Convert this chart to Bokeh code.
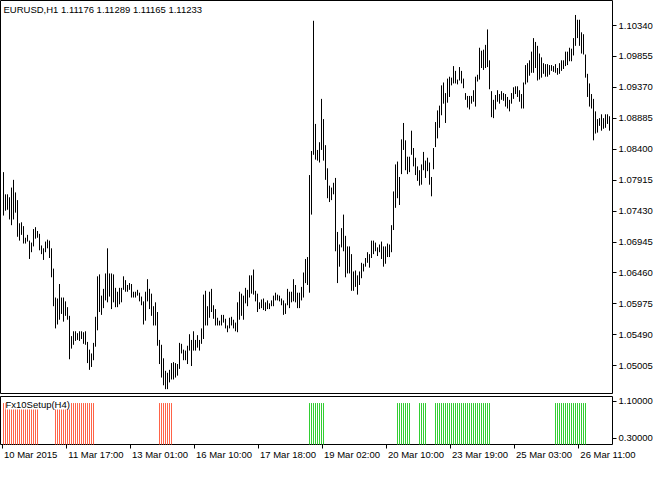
from bokeh.plotting import figure
from bokeh.models import (Range1d, FixedTicker, PrintfTickFormatter, Label, ColumnDataSource,
                          LinearAxis)
from bokeh.layouts import column
from bokeh.embed import file_html
from bokeh.resources import INLINE

# ---------------- data ----------------
title_text = "EURUSD,H1  1.11176 1.11289 1.11165 1.11233"
indicator_name = "Fx10Setup(H4)"

bar_high = [
    1.08041, 1.07693, 1.07693, 1.07647, 1.07799, 1.07920, 1.07723, 1.07602, 1.07239, 1.07254,
    1.07194, 1.07012, 1.07057, 1.06967, 1.06936, 1.07148, 1.07178, 1.07118, 1.07073, 1.06891,
    1.06846, 1.06952, 1.06982, 1.06967, 1.06846, 1.06528, 1.06074, 1.06059, 1.06286, 1.06074,
    1.06074, 1.06014, 1.05923, 1.05787, 1.05469, 1.05545, 1.05545, 1.05515, 1.05545, 1.05545,
    1.05530, 1.05545, 1.05378, 1.05257, 1.05197, 1.05363, 1.05772, 1.06407, 1.06437, 1.06104,
    1.06210, 1.06452, 1.06846, 1.06452, 1.06452, 1.06437, 1.06226, 1.06165, 1.06226, 1.06226,
    1.06407, 1.06347, 1.06271, 1.06301, 1.06286, 1.06165, 1.06165, 1.06195, 1.06150, 1.06089,
    1.06014, 1.06165, 1.06362, 1.06210, 1.06135, 1.05938, 1.05999, 1.05847, 1.05409, 1.05333,
    1.05121, 1.04925, 1.04894, 1.04940, 1.05046, 1.05061, 1.05046, 1.05031, 1.05363, 1.05348,
    1.05257, 1.05242, 1.05318, 1.05499, 1.05409, 1.05545, 1.05409, 1.05484, 1.05409, 1.05590,
    1.06120, 1.06180, 1.05938, 1.06165, 1.06210, 1.05953, 1.05893, 1.05757, 1.05711, 1.05802,
    1.05802, 1.05741, 1.05636, 1.05757, 1.05772, 1.05726, 1.05681, 1.05999, 1.06165, 1.06135,
    1.06104, 1.06226, 1.06195, 1.06422, 1.06422, 1.06513, 1.06180, 1.06135, 1.05999, 1.06044,
    1.06059, 1.05999, 1.06029, 1.05983, 1.06029, 1.06104, 1.06150, 1.06120, 1.06104, 1.06059,
    1.06029, 1.05983, 1.06210, 1.06165, 1.06165, 1.06362, 1.06271, 1.06150, 1.06150, 1.06241,
    1.06467, 1.06679, 1.06709, 1.07995, 1.08373, 1.10415, 1.08797, 1.08389, 1.08510, 1.09190,
    1.08873, 1.08464, 1.08101, 1.07829, 1.07799, 1.07874, 1.07950, 1.07103, 1.06906, 1.07163,
    1.07375, 1.07042, 1.06876, 1.06876, 1.06755, 1.06483, 1.06498, 1.06422, 1.06483, 1.06619,
    1.06604, 1.06694, 1.06785, 1.06755, 1.06967, 1.06967, 1.06936, 1.06861, 1.06906, 1.06952,
    1.06876, 1.06876, 1.06921, 1.06906, 1.07209, 1.07738, 1.08162, 1.08207, 1.07965, 1.08555,
    1.08812, 1.08540, 1.08283, 1.08283, 1.08691, 1.08419, 1.08267, 1.08131, 1.08071, 1.08162,
    1.08358, 1.08222, 1.08267, 1.08192, 1.07965, 1.08419, 1.08827, 1.09009, 1.09084, 1.09402,
    1.09447, 1.09281, 1.09508, 1.09538, 1.09523, 1.09704, 1.09629, 1.09493, 1.09689, 1.09629,
    1.09508, 1.09281, 1.09236, 1.09236, 1.09236, 1.09326, 1.09538, 1.09568, 1.09992, 1.09946,
    1.09962, 1.10037, 1.10279, 1.09795, 1.09311, 1.09175, 1.09251, 1.09326, 1.09266, 1.09311,
    1.09281, 1.09266, 1.09220, 1.09175, 1.09281, 1.09372, 1.09387, 1.09387, 1.09326, 1.09266,
    1.09447, 1.09720, 1.09750, 1.09795, 1.09931, 1.10143, 1.10083, 1.10022, 1.09901, 1.09841,
    1.09750, 1.09735, 1.09735, 1.09720, 1.09720, 1.09704, 1.09735, 1.09674, 1.09750, 1.09795,
    1.09795, 1.09931, 1.09931, 1.09992, 1.09977, 1.10143, 1.10506, 1.10431, 1.10431, 1.10234,
    1.10204, 1.09886, 1.09583, 1.09432, 1.09266, 1.09190, 1.08994, 1.08873, 1.08888, 1.08948,
    1.08888, 1.08948, 1.08948, 1.08918,
]

bar_low = [
    1.07360, 1.07436, 1.07451, 1.07299, 1.07209, 1.07299, 1.07405, 1.07027, 1.06967, 1.07057,
    1.06921, 1.06921, 1.06952, 1.06679, 1.06785, 1.06876, 1.06997, 1.07012, 1.06815, 1.06755,
    1.06664, 1.06785, 1.06846, 1.06694, 1.06392, 1.05938, 1.05590, 1.05651, 1.05726, 1.05817,
    1.05696, 1.05787, 1.05726, 1.05106, 1.05273, 1.05333, 1.05394, 1.05409, 1.05394, 1.05424,
    1.05348, 1.05333, 1.05046, 1.04940, 1.04985, 1.05091, 1.05303, 1.05560, 1.05847, 1.05802,
    1.05908, 1.06029, 1.05999, 1.06089, 1.05893, 1.05999, 1.05923, 1.05923, 1.05968, 1.05999,
    1.06195, 1.06165, 1.06165, 1.06195, 1.06074, 1.06074, 1.06074, 1.06104, 1.06014, 1.05953,
    1.05651, 1.05711, 1.06014, 1.05893, 1.05787, 1.05636, 1.05636, 1.05318, 1.05031, 1.04819,
    1.04698, 1.04637, 1.04637, 1.04743, 1.04789, 1.04789, 1.04819, 1.04849, 1.04955, 1.05197,
    1.05091, 1.05091, 1.05031, 1.05242, 1.05000, 1.05242, 1.05242, 1.05288, 1.05242, 1.05348,
    1.05424, 1.05636, 1.05636, 1.05757, 1.05847, 1.05741, 1.05636, 1.05636, 1.05636, 1.05636,
    1.05681, 1.05590, 1.05530, 1.05590, 1.05636, 1.05590, 1.05545, 1.05530, 1.05726, 1.05787,
    1.05726, 1.05983, 1.05938, 1.06074, 1.06135, 1.06120, 1.06014, 1.05847, 1.05893, 1.05908,
    1.05878, 1.05862, 1.05893, 1.05893, 1.05938, 1.05938, 1.06029, 1.06029, 1.06014, 1.05953,
    1.05802, 1.05817, 1.05953, 1.05908, 1.05999, 1.06014, 1.05999, 1.05908, 1.05908, 1.06029,
    1.06074, 1.06301, 1.06271, 1.06150, 1.07375, 1.08313, 1.08237, 1.08222, 1.08192, 1.08389,
    1.08222, 1.07920, 1.07632, 1.07572, 1.07602, 1.07693, 1.06800, 1.06301, 1.06558, 1.06861,
    1.06800, 1.06392, 1.06452, 1.06452, 1.06180, 1.06180, 1.06241, 1.06120, 1.06271, 1.06377,
    1.06483, 1.06558, 1.06619, 1.06543, 1.06694, 1.06755, 1.06800, 1.06725, 1.06785, 1.06679,
    1.06558, 1.06604, 1.06709, 1.06709, 1.06785, 1.07133, 1.07481, 1.07632, 1.07526, 1.08010,
    1.08389, 1.08071, 1.08010, 1.08041, 1.08313, 1.08131, 1.07995, 1.07904, 1.07829, 1.07844,
    1.08071, 1.07950, 1.08056, 1.07844, 1.07662, 1.08086, 1.08434, 1.08570, 1.08736, 1.08933,
    1.09115, 1.08812, 1.09130, 1.09220, 1.09402, 1.09432, 1.09432, 1.09417, 1.09478, 1.09432,
    1.09357, 1.09175, 1.09054, 1.09024, 1.09115, 1.09145, 1.09069, 1.09462, 1.09493, 1.09674,
    1.09644, 1.09674, 1.09689, 1.09341, 1.08903, 1.08888, 1.09024, 1.09145, 1.09115, 1.09175,
    1.09160, 1.09069, 1.09039, 1.08994, 1.09115, 1.09190, 1.09266, 1.09220, 1.09145, 1.09039,
    1.09039, 1.09417, 1.09447, 1.09553, 1.09599, 1.09599, 1.09674, 1.09478, 1.09493, 1.09523,
    1.09583, 1.09538, 1.09538, 1.09568, 1.09629, 1.09614, 1.09599, 1.09568, 1.09583, 1.09629,
    1.09659, 1.09704, 1.09720, 1.09780, 1.09780, 1.09871, 1.10022, 1.10143, 1.10022, 1.09901,
    1.09886, 1.09523, 1.09220, 1.09069, 1.09039, 1.08540, 1.08646, 1.08661, 1.08767, 1.08691,
    1.08721, 1.08736, 1.08797, 1.08691,
]

price_ticks = [1.05005, 1.05490, 1.05975, 1.06460, 1.06945, 1.07430, 1.07915, 1.08400,
               1.08885, 1.09370, 1.09855, 1.10340]

# indicator: runs of bars (first, last) coloured red / green, constant histogram level
red_runs = [(0, 17), (26, 45), (78, 84)]
green_runs = [(153, 160), (197, 203), (208, 211), (216, 243), (276, 291)]
indicator_level = 1.06
indicator_ticks = [0.3, 1.1]

date_labels = ["10 Mar 2015", "11 Mar 17:00", "13 Mar 01:00", "16 Mar 10:00", "17 Mar 18:00",
               "19 Mar 02:00", "20 Mar 10:00", "23 Mar 19:00", "25 Mar 03:00", "26 Mar 11:00"]
bars_per_label = 32

# ---------------- styling ----------------
FONT = "Liberation Sans"
FS = "9.5px"
RED = "#FF6347"
GREEN = "#32CD32"

n = len(bar_high)
xs = list(range(n))
x_range = Range1d(-1.5, 304.5)

src = ColumnDataSource(dict(x=xs, high=bar_high, low=bar_low))

p = figure(frame_width=612, frame_height=393, x_range=x_range,
           y_range=Range1d(1.04569, 1.10733),
           output_backend="svg", toolbar_location=None,
           x_axis_location=None, y_axis_location="right",
           min_border_left=0, min_border_top=0, min_border_bottom=3, min_border_right=0,
           background_fill_color="white", border_fill_color="white")
p.outline_line_color = "black"
p.outline_line_width = 1
p.outline_line_alpha = 1.0
p.grid.visible = False
p.segment(x0="x", y0="low", x1="x", y1="high", source=src, line_color="black", line_width=1)

ya = p.yaxis[0]
ya.ticker = FixedTicker(ticks=price_ticks)
ya.formatter = PrintfTickFormatter(format="%.5f")
ya.major_tick_out = 4
ya.major_tick_in = 0
ya.minor_tick_out = 0
ya.minor_tick_in = 0
ya.axis_line_color = None
ya.major_tick_line_color = "black"
ya.major_label_standoff = 2
ya.major_label_text_font = FONT
ya.major_label_text_font_size = FS
ya.major_label_text_color = "black"

p.add_layout(Label(x=3, y=393 - 3, x_units="screen", y_units="screen", text=title_text,
                   text_baseline="top", text_align="left", text_font=FONT,
                   text_font_size=FS, text_color="black"))

# indicator pane
red_x = [i for a, b in red_runs for i in range(a, b + 1)]
green_x = [i for a, b in green_runs for i in range(a, b + 1)]
rsrc = ColumnDataSource(dict(x=red_x, top=[indicator_level] * len(red_x), bottom=[0.0] * len(red_x)))
gsrc = ColumnDataSource(dict(x=green_x, top=[indicator_level] * len(green_x), bottom=[0.0] * len(green_x)))

q = figure(frame_width=612, frame_height=48, x_range=x_range,
           y_range=Range1d(0.164, 1.2016),
           output_backend="svg", toolbar_location=None,
           x_axis_location="below", y_axis_location="right",
           min_border_left=0, min_border_top=0, min_border_bottom=0, min_border_right=0,
           background_fill_color="white", border_fill_color="white")
q.outline_line_color = "black"
q.outline_line_width = 1
q.outline_line_alpha = 1.0
q.grid.visible = False
q.segment(x0="x", y0="bottom", x1="x", y1="top", source=rsrc, line_color=RED, line_width=1)
q.segment(x0="x", y0="bottom", x1="x", y1="top", source=gsrc, line_color=GREEN, line_width=1)

qy = q.yaxis[0]
qy.ticker = FixedTicker(ticks=indicator_ticks)
qy.formatter = PrintfTickFormatter(format="%.5f")
qy.major_tick_out = 4
qy.major_tick_in = 0
qy.minor_tick_out = 0
qy.minor_tick_in = 0
qy.axis_line_color = None
qy.major_label_standoff = 2
qy.major_label_text_font = FONT
qy.major_label_text_font_size = FS
qy.major_label_text_color = "black"

# tick marks only (first axis below the pane)
tick_pos = [bars_per_label * k - 0.75 for k in range(len(date_labels))]
qx = q.xaxis[0]
qx.ticker = FixedTicker(ticks=tick_pos)
qx.major_label_overrides = {t: "" for t in tick_pos}
qx.major_label_text_font_size = "0px"
qx.major_label_standoff = 0
qx.major_tick_out = 4
qx.major_tick_in = 0
qx.minor_tick_out = 0
qx.minor_tick_in = 0
qx.axis_line_color = None

# date labels on a second axis, centred so that each text starts just right of its tick
half_w = [14.3] + [15.0] * (len(date_labels) - 1)   # half label width + gap, in bar units
label_pos = [t + h for t, h in zip(tick_pos, half_w)]
lx = LinearAxis(ticker=FixedTicker(ticks=label_pos),
                major_label_overrides={c: lab for c, lab in zip(label_pos, date_labels)},
                major_tick_out=0, major_tick_in=0, minor_tick_out=0, minor_tick_in=0,
                axis_line_color=None, major_label_standoff=0,
                major_label_text_font=FONT, major_label_text_font_size=FS,
                major_label_text_color="black")
q.add_layout(lx, "below")

q.add_layout(Label(x=5, y=48 - 2, x_units="screen", y_units="screen", text=indicator_name,
                   text_baseline="top", text_align="left", text_font=FONT,
                   text_font_size=FS, text_color="black",
                   background_fill_color="white", background_fill_alpha=1.0))

layout = column(p, q, spacing=0)
open("out.html", "w").write(file_html(layout, INLINE))
